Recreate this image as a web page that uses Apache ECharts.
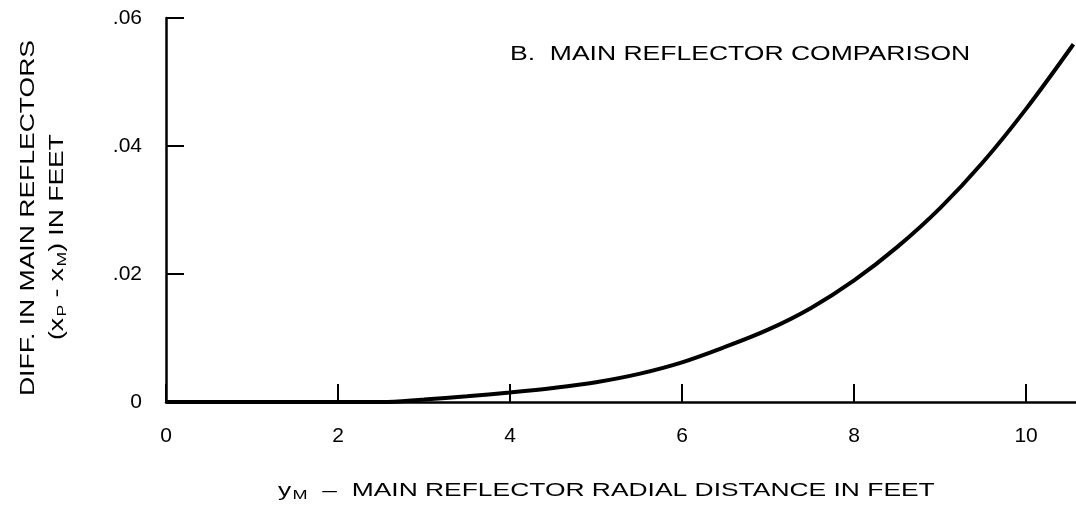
<!DOCTYPE html>
<html>
<head>
<meta charset="utf-8">
<script type="text/javascript" src="https://cdn.jsdelivr.net/npm/echarts@6/dist/echarts.min.js"></script>
<style>
  html, body { margin: 0; padding: 0; background: #fff; }
  #chart-main { width: 1076px; height: 516px; }
</style>
</head>
<body>
<div id="chart-main"></div>

<script>
// radial distance y_M (feet)
var radialDist = [0, 1, 2, 2.5, 3, 3.5, 4, 4.5, 5, 5.5, 6, 6.5, 7, 7.5, 8, 8.5, 9, 9.5, 10, 10.55];
// x_P - x_M (feet)
var diffValues = [0, 0, 0, 0, 0.0004, 0.0009, 0.0015, 0.0022, 0.0031, 0.0044, 0.0062, 0.0086, 0.0113, 0.0147, 0.019, 0.0242, 0.0303, 0.0375, 0.0458, 0.0559];
var xTicks = [0, 2, 4, 6, 8, 10];

var chartMain = echarts.init(document.getElementById('chart-main'));
var font = '"Liberation Sans", Arial, sans-serif';
var stretch = 1.36;   // lettering in the original is wide

var pts = [];
for (var i = 0; i < radialDist.length; i++) {
  pts.push([radialDist[i], diffValues[i]]);
}

var subStyle = { fontSize: 13, fontFamily: font, fill: '#000', verticalAlign: 'bottom', padding: [9, 0, 0, 1] };

var option = {
  animation: false,
  backgroundColor: '#fff',
  textStyle: { fontFamily: font, color: '#000' },
  grid: { left: 166, right: 0, top: 18, bottom: 114 },
  graphic: [
    {   // title inside plot
      type: 'text',
      x: 510, y: 55, scaleX: stretch,
      style: { text: 'B.  MAIN REFLECTOR COMPARISON', font: '19.5px ' + font, fill: '#000', align: 'left', verticalAlign: 'middle' }
    },
    {   // x axis title
      type: 'text',
      x: 278, y: 491, scaleX: 1.39,
      style: {
        text: 'y{sub|M}  –  MAIN REFLECTOR RADIAL DISTANCE IN FEET',
        font: '19px ' + font, fill: '#000', align: 'left', verticalAlign: 'middle',
        rich: { sub: subStyle }
      }
    },
    {   // y axis title, line 1
      type: 'text',
      x: 29, y: 218, rotation: Math.PI / 2, scaleX: stretch,
      style: { text: 'DIFF. IN MAIN REFLECTORS', font: '19.5px ' + font, fill: '#000', align: 'center', verticalAlign: 'middle' }
    },
    {   // y axis title, line 2
      type: 'text',
      x: 58, y: 237, rotation: Math.PI / 2, scaleX: stretch,
      style: {
        text: '(x{sub|P} - x{sub|M}) IN FEET',
        font: '19.5px ' + font, fill: '#000', align: 'center', verticalAlign: 'middle',
        rich: { sub: subStyle }
      }
    }
  ],
  xAxis: {
    type: 'value',
    min: 0,
    max: 10.58,
    axisLine: { show: true, lineStyle: { color: '#000', width: 2.5 } },
    axisTick: { show: true, inside: true, length: 18, customValues: xTicks, lineStyle: { color: '#000', width: 2 } },
    axisLabel: { customValues: xTicks, margin: 24, fontSize: 21, color: '#000', fontFamily: font },
    splitLine: { show: false }
  },
  yAxis: {
    type: 'value',
    min: 0,
    max: 0.06,
    interval: 0.02,
    axisLine: { show: true, lineStyle: { color: '#000', width: 2.5 } },
    axisTick: { show: true, inside: true, length: 18, lineStyle: { color: '#000', width: 2 } },
    axisLabel: {
      margin: 24, fontSize: 21, color: '#000', fontFamily: font,
      formatter: function (v) {
        if (v === 0) return '0';
        return v.toFixed(2).replace(/^0/, '');
      }
    },
    splitLine: { show: false }
  },
  series: [
    {
      name: 'diff',
      type: 'line',
      smooth: 0.35,
      symbol: 'none',
      clip: false,
      lineStyle: { color: '#000', width: 4 },
      data: pts
    }
  ]
};
chartMain.setOption(option);
</script>
</body>
</html>
